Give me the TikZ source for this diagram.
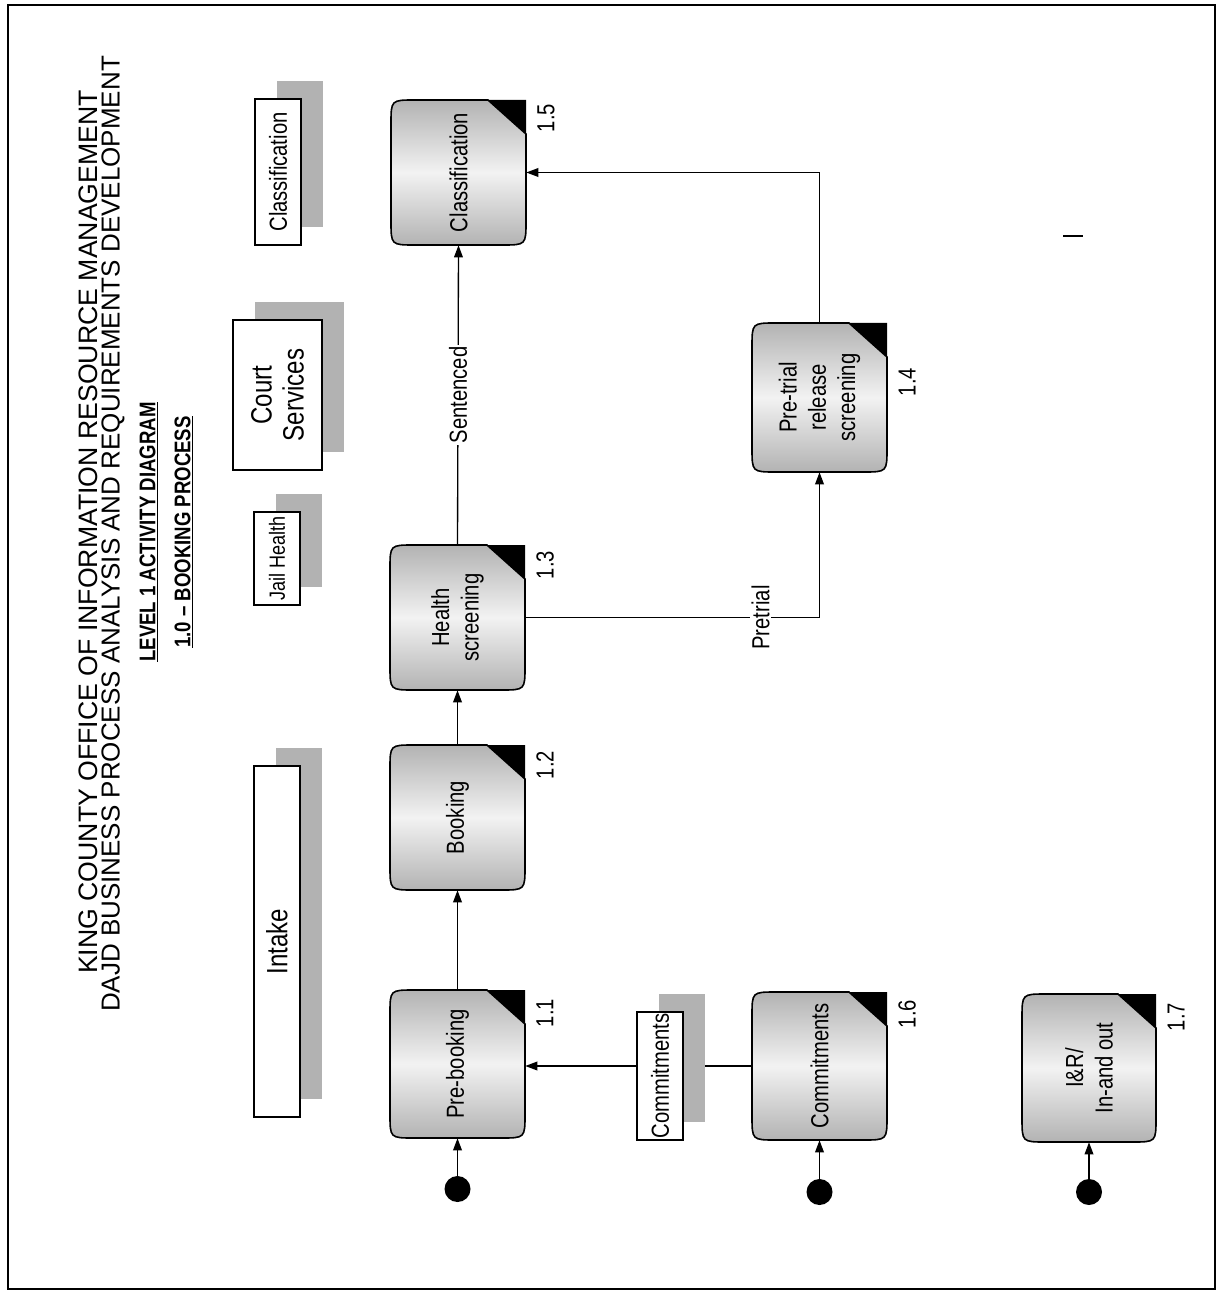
\documentclass[tikz,border=0pt]{standalone}
\usepackage{fontspec}
\setmainfont{Liberation Sans}
\newfontfamily\nar[FakeStretch=0.82]{Liberation Sans}
\usetikzlibrary{arrows.meta}
\tikzset{
  arr/.style={draw, line width=1pt, -{Triangle[length=9pt,width=6.5pt]}},
  lab/.style={rotate=90, font={\nar\fontsize{18.5}{22}\selectfont}, inner sep=1pt},
  actfill/.style={draw, line width=1.2pt, top color=gray!60, bottom color=gray!60, middle color=gray!10},
  actnode/.style={rectangle, inner sep=0pt, draw=none},
  hdrbox/.style={draw, line width=1.2pt, fill=white},
  shadowc/.style={fill=gray!60},
  startdot/.style={circle, fill=black, minimum size=19.5pt, inner sep=0pt},
  ttl/.style={rotate=90, inner sep=0pt}
}
\newcommand\actbox[8]{%
  \path[actfill] (#4-38,#3) -- (#2+24,#3) .. controls (#2,#3) .. (#2,#3+24) -- (#2,#5-24) .. controls (#2,#5) .. (#2+24,#5) -- (#4-24,#5) .. controls (#4,#5) .. (#4,#5-24) -- (#4,#3+34) -- cycle;
  \fill[black] (#4-38,#3) -- (#4,#3) -- (#4,#3+34) -- cycle;
  \node[actnode, minimum width={(#4-#2)*0.75pt}, minimum height={(#5-#3)*0.75pt}] (#1) at ({(#2+#4)/2},{(#3+#5)/2}) {};
  \node[lab, align=center] (#1t) at (#1.center) {#6};
  \node[lab] (#1n) at (#4+20,#3+#8) {#7};
}
\newcommand\hdrbx[7]{%
  \fill[shadowc] (#2+22,#3-18) rectangle (#4+22,#5-18);
  \draw[hdrbox] (#2,#3) rectangle (#4,#5);
  \node[rotate=90, align=center, inner sep=0pt, font={#7}] (#1) at ({(#2+#4)/2},{(#3+#5)/2}) {#6};
}
\begin{document}
\begin{tikzpicture}[x=0.75pt,y=-0.75pt]
\useasboundingbox (0,0) rectangle (1224,1301);
\fill[white] (0,0) rectangle (1224,1301);
\draw[line width=0.8pt] (8,5) rectangle (1215,1289);

% titles
\node[ttl, font={\fontsize{20}{22}\selectfont}] (t1) at (88,532) {KING COUNTY OFFICE OF INFORMATION RESOURCE MANAGEMENT};
\node[ttl, font={\fontsize{19.5}{22}\selectfont}] (t2) at (113,534) {DAJD BUSINESS PROCESS ANALYSIS AND REQUIREMENTS DEVELOPMENT};
\node[ttl, font={\nar\bfseries\fontsize{17}{20}\selectfont}] (t3) at (149,532) {\underline{LEVEL 1 ACTIVITY DIAGRAM}};
\node[ttl, font={\nar\bfseries\fontsize{17}{20}\selectfont}] (t4) at (184,532) {\underline{1.0 – BOOKING PROCESS}};

% swimlane headers
\hdrbx{hint}{254}{766}{300}{1117}{Intake}{\nar\fontsize{22}{25}\selectfont}
\hdrbx{hjail}{254}{512}{300}{605}{Jail Health}{\nar\fontsize{16.5}{18}\selectfont}
\hdrbx{hcourt}{233}{320}{322}{470}{Court\\Services}{\nar\fontsize{22}{24}\selectfont}
\hdrbx{hclass}{255}{99}{301}{245}{Classification}{\nar\fontsize{18.5}{21}\selectfont}

% activities
\actbox{n11}{390}{990}{525}{1138}{Pre-booking}{1.1}{23}
\actbox{n12}{390}{745}{525}{890}{Booking}{1.2}{20}
\actbox{n13}{390}{545}{525}{690}{Health\\screening}{1.3}{20}
\actbox{n15}{391}{100}{526}{245}{Classification}{1.5}{18}
\actbox{n14}{752}{323}{887}{472}{Pre-trial\\release\\screening}{1.4}{59}
\actbox{n16}{752}{992}{887}{1140}{Commitments}{1.6}{22}
\actbox{n17}{1022}{994}{1156}{1142}{I\&R/\\In-and out}{1.7}{23}

% start points
\node[startdot] (s1) at (457.5,1189) {};
\node[startdot] (s2) at (819.5,1192) {};
\node[startdot] (s3) at (1089,1192) {};

% connectors
\draw[arr] (s1) -- (n11.south);
\draw[arr] (s2) -- (n16.south);
\draw[arr] (s3) -- (n17.south);
\draw[arr] (n11.north) -- (n12.south);
\draw[arr] (n12.north) -- (n13.south);
\draw[arr] (n13.north) -- node[lab, fill=white] (lsent) {Sentenced} (n15.south);
\draw[arr] (n13.east) -- node[lab, fill=white, pos=0.8] (lpre) {Pretrial} (n14.south |- n13.east) -- (n14.south);
\draw[arr] (n14.north) |- (n15.east);
\draw[arr] (n16.west) -- (n11.east |- n16.west);

% commitments label box over connector
\hdrbx{hcomm}{637}{1012}{683}{1140}{Commitments}{\nar\fontsize{18.5}{21}\selectfont}

% stray mark
\draw[line width=1.5pt] (1063,236) -- (1083,236);
\end{tikzpicture}
\end{document}
